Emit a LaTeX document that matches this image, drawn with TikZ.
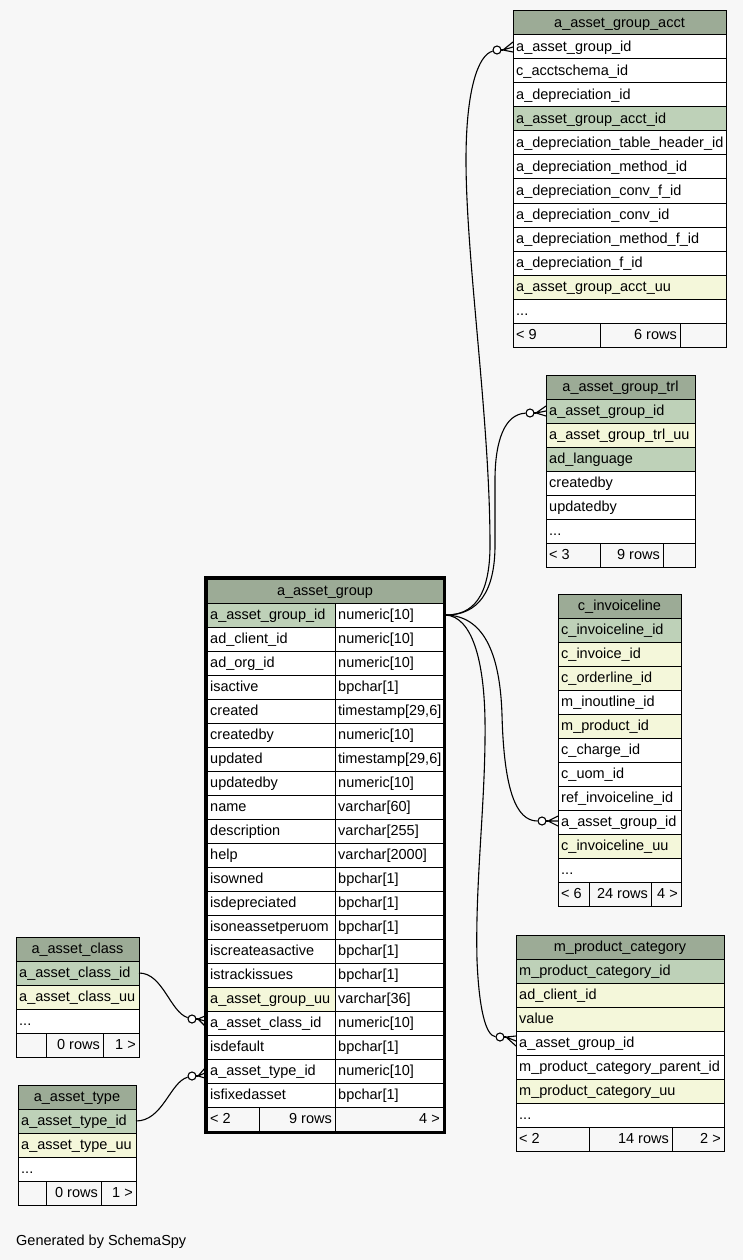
\documentclass[tikz,border=0pt]{standalone}
\usepackage{fontspec}
\setmainfont{Liberation Sans}
\definecolor{bgc}{HTML}{F7F7F7}
\definecolor{hdrc}{HTML}{9CAB96}
\definecolor{keyc}{HTML}{BED1B8}
\definecolor{uuc}{HTML}{F4F7DA}
\tikzset{
  cellbox/.style={draw=black, line width=1pt},
  celltxt/.style={anchor=base west, inner sep=0pt, font=\fontsize{14.5}{17}\selectfont},
  conn/.style={draw=black, line width=1.1pt},
  odot/.style={circle, draw=black, fill=white, line width=1.1pt, inner sep=0pt, minimum size=8pt},
}
% header: name x1 x2 ytop text
\newcommand\thead[5]{\filldraw[cellbox,fill=hdrc] (#2,#4) rectangle (#3,#4+24);
  \node[celltxt,anchor=base] (#1) at ({(#2+#3)/2},#4+16.5) {#5};}
% row: name x1 x2 ytop fill text
\newcommand\trow[6]{\filldraw[cellbox,fill=#5] (#2,#4) rectangle (#3,#4+24);
  \node[celltxt] (#1) at (#2+3,#4+16.5) {#6};}
% footer: name x1 s1 s2 x2 ytop left mid right
\newcommand\tfoot[9]{%
  \filldraw[cellbox,fill=bgc] (#2,#6) rectangle (#3,#6+24);
  \filldraw[cellbox,fill=bgc] (#3,#6) rectangle (#4,#6+24);
  \filldraw[cellbox,fill=bgc] (#4,#6) rectangle (#5,#6+24);
  \node[celltxt] (#1l) at (#2+3,#6+16.5) {#7};
  \node[celltxt,anchor=base east] (#1m) at (#4-3,#6+16.5) {#8};
  \node[celltxt,anchor=base east] (#1r) at (#5-3,#6+16.5) {#9};}
% main table row: name ytop fill t1 t2
\newcommand\mrow[5]{%
  \filldraw[cellbox,fill=#3] (207,#2) rectangle (335,#2+24);
  \filldraw[cellbox,fill=white] (335,#2) rectangle (443,#2+24);
  \node[celltxt] (#1a) at (210,#2+16.5) {#4};
  \node[celltxt] (#1b) at (338,#2+16.5) {#5};}
% crow's foot with open circle: name cx cy vx ex ey
\newcommand\crowfoot[6]{%
  \draw[conn] (#4,#3) -- (#5,#6-5) (#4,#3) -- (#5,#6) (#4,#3) -- (#5,#6+5);
  \draw[conn] (#2,#3) -- (#4,#3);
  \node[odot] (#1) at (#2,#3) {};}
\begin{document}
\begin{tikzpicture}[x=1pt,y=-1pt]
\fill[bgc] (0,0) rectangle (743,1260);
\useasboundingbox (0,0) rectangle (743,1260);

% ---------- a_asset_group_acct ----------
\thead{acct}{513}{726}{11}{a\_asset\_group\_acct}
\trow{acct0}{513}{726}{35}{white}{a\_asset\_group\_id}
\trow{acct1}{513}{726}{59}{white}{c\_acctschema\_id}
\trow{acct2}{513}{726}{83}{white}{a\_depreciation\_id}
\trow{acct3}{513}{726}{107}{keyc}{a\_asset\_group\_acct\_id}
\trow{acct4}{513}{726}{131}{white}{a\_depreciation\_table\_header\_id}
\trow{acct5}{513}{726}{155}{white}{a\_depreciation\_method\_id}
\trow{acct6}{513}{726}{179}{white}{a\_depreciation\_conv\_f\_id}
\trow{acct7}{513}{726}{203}{white}{a\_depreciation\_conv\_id}
\trow{acct8}{513}{726}{227}{white}{a\_depreciation\_method\_f\_id}
\trow{acct9}{513}{726}{251}{white}{a\_depreciation\_f\_id}
\trow{acct10}{513}{726}{275}{uuc}{a\_asset\_group\_acct\_uu}
\trow{acct11}{513}{726}{299}{white}{...}
\tfoot{acctf}{513}{600}{680}{726}{323}{< 9}{6 rows}{}

% ---------- a_asset_group_trl ----------
\thead{trl}{546}{695}{375}{a\_asset\_group\_trl}
\trow{trl0}{546}{695}{399}{keyc}{a\_asset\_group\_id}
\trow{trl1}{546}{695}{423}{uuc}{a\_asset\_group\_trl\_uu}
\trow{trl2}{546}{695}{447}{keyc}{ad\_language}
\trow{trl3}{546}{695}{471}{white}{createdby}
\trow{trl4}{546}{695}{495}{white}{updatedby}
\trow{trl5}{546}{695}{519}{white}{...}
\tfoot{trlf}{546}{600}{663}{695}{543}{< 3}{9 rows}{}

% ---------- c_invoiceline ----------
\thead{inv}{558}{681}{594}{c\_invoiceline}
\trow{inv0}{558}{681}{618}{keyc}{c\_invoiceline\_id}
\trow{inv1}{558}{681}{642}{uuc}{c\_invoice\_id}
\trow{inv2}{558}{681}{666}{uuc}{c\_orderline\_id}
\trow{inv3}{558}{681}{690}{white}{m\_inoutline\_id}
\trow{inv4}{558}{681}{714}{uuc}{m\_product\_id}
\trow{inv5}{558}{681}{738}{white}{c\_charge\_id}
\trow{inv6}{558}{681}{762}{white}{c\_uom\_id}
\trow{inv7}{558}{681}{786}{white}{ref\_invoiceline\_id}
\trow{inv8}{558}{681}{810}{white}{a\_asset\_group\_id}
\trow{inv9}{558}{681}{834}{uuc}{c\_invoiceline\_uu}
\trow{inv10}{558}{681}{858}{white}{...}
\tfoot{invf}{558}{589}{651}{681}{882}{< 6}{24 rows}{4 >}

% ---------- m_product_category ----------
\thead{mpc}{516}{724}{935}{m\_product\_category}
\trow{mpc0}{516}{724}{959}{keyc}{m\_product\_category\_id}
\trow{mpc1}{516}{724}{983}{uuc}{ad\_client\_id}
\trow{mpc2}{516}{724}{1007}{uuc}{value}
\trow{mpc3}{516}{724}{1031}{white}{a\_asset\_group\_id}
\trow{mpc4}{516}{724}{1055}{white}{m\_product\_category\_parent\_id}
\trow{mpc5}{516}{724}{1079}{uuc}{m\_product\_category\_uu}
\trow{mpc6}{516}{724}{1103}{white}{...}
\tfoot{mpcf}{516}{589}{672}{724}{1127}{< 2}{14 rows}{2 >}

% ---------- a_asset_class ----------
\thead{cls}{16}{139}{937}{a\_asset\_class}
\trow{cls0}{16}{139}{961}{keyc}{a\_asset\_class\_id}
\trow{cls1}{16}{139}{985}{uuc}{a\_asset\_class\_uu}
\trow{cls2}{16}{139}{1009}{white}{...}
\tfoot{clsf}{16}{46}{103}{139}{1033}{}{0 rows}{1 >}

% ---------- a_asset_type ----------
\thead{typ}{18}{136}{1085}{a\_asset\_type}
\trow{typ0}{18}{136}{1109}{keyc}{a\_asset\_type\_id}
\trow{typ1}{18}{136}{1133}{uuc}{a\_asset\_type\_uu}
\trow{typ2}{18}{136}{1157}{white}{...}
\tfoot{typf}{18}{46}{101}{136}{1181}{}{0 rows}{1 >}

% ---------- a_asset_group (main) ----------
\filldraw[cellbox,fill=hdrc] (207,579) rectangle (443,603);
\node[celltxt,anchor=base] (ag) at (325,579+16.5) {a\_asset\_group};
\mrow{ag0}{603}{keyc}{a\_asset\_group\_id}{numeric[10]}
\mrow{ag1}{627}{white}{ad\_client\_id}{numeric[10]}
\mrow{ag2}{651}{white}{ad\_org\_id}{numeric[10]}
\mrow{ag3}{675}{white}{isactive}{bpchar[1]}
\mrow{ag4}{699}{white}{created}{timestamp[29,6]}
\mrow{ag5}{723}{white}{createdby}{numeric[10]}
\mrow{ag6}{747}{white}{updated}{timestamp[29,6]}
\mrow{ag7}{771}{white}{updatedby}{numeric[10]}
\mrow{ag8}{795}{white}{name}{varchar[60]}
\mrow{ag9}{819}{white}{description}{varchar[255]}
\mrow{ag10}{843}{white}{help}{varchar[2000]}
\mrow{ag11}{867}{white}{isowned}{bpchar[1]}
\mrow{ag12}{891}{white}{isdepreciated}{bpchar[1]}
\mrow{ag13}{915}{white}{isoneassetperuom}{bpchar[1]}
\mrow{ag14}{939}{white}{iscreateasactive}{bpchar[1]}
\mrow{ag15}{963}{white}{istrackissues}{bpchar[1]}
\mrow{ag16}{987}{uuc}{a\_asset\_group\_uu}{varchar[36]}
\mrow{ag17}{1011}{white}{a\_asset\_class\_id}{numeric[10]}
\mrow{ag18}{1035}{white}{isdefault}{bpchar[1]}
\mrow{ag19}{1059}{white}{a\_asset\_type\_id}{numeric[10]}
\mrow{ag20}{1083}{white}{isfixedasset}{bpchar[1]}
\filldraw[cellbox,fill=bgc] (207,1107) rectangle (259,1131);
\filldraw[cellbox,fill=bgc] (259,1107) rectangle (335,1131);
\filldraw[cellbox,fill=bgc] (335,1107) rectangle (443,1131);
\node[celltxt] (agfl) at (210,1107+16.5) {< 2};
\node[celltxt,anchor=base east] (agfm) at (332,1107+16.5) {9 rows};
\node[celltxt,anchor=base east] (agfr) at (440,1107+16.5) {4 >};
\draw[black,line width=3pt] (205.5,577.5) rectangle (444.5,1132.5);

% ---------- connector ends ----------
\coordinate (agid) at (446,615);
\coordinate (clsid) at (139,973);
\coordinate (typid) at (136,1121);
\crowfoot{c1}{497}{50}{503}{513}{47}
\crowfoot{c2}{530}{413}{536}{546}{411}
\crowfoot{c3}{542}{821}{548}{558}{821}
\crowfoot{c4}{500}{1037}{506}{516}{1041}
\crowfoot{c5}{192}{1019}{198}{205}{1021}
\crowfoot{c6}{192}{1076}{198}{205}{1073}

% ---------- connectors ----------
\draw[conn] (agid) .. controls (472,615) and (490,598) .. (490,545)
  .. controls (490,420) and (466,260) .. (466,160)
  .. controls (466,90) and (478,55) .. (c1);
\draw[conn] (agid) .. controls (478,615) and (495,592) .. (495,545)
  -- (495,480) .. controls (495,440) and (505,414) .. (c2);
\draw[conn] (agid) .. controls (482,616) and (500,650) .. (502,715)
  .. controls (504,790) and (516,821) .. (c3);
\draw[conn] (agid) .. controls (472,617) and (484,660) .. (485,720)
  .. controls (486,800) and (475,880) .. (477,960)
  .. controls (479,1010) and (486,1036) .. (c4);
\draw[conn] (clsid) .. controls (163,973) and (170,1012) .. (c5);
\draw[conn] (typid) .. controls (163,1121) and (170,1082) .. (c6);

\node[celltxt] (gen) at (16,1245) {Generated by SchemaSpy};
\end{tikzpicture}
\end{document}
